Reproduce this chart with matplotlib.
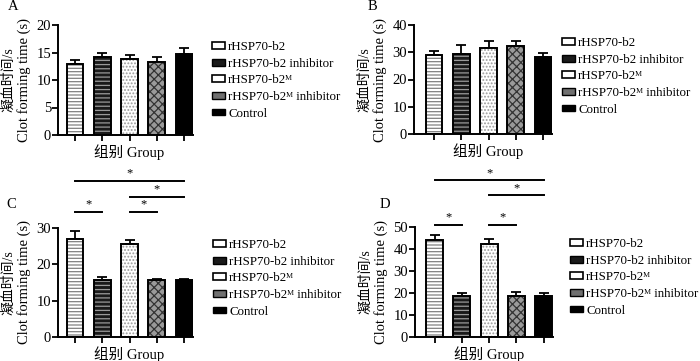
import matplotlib
matplotlib.use("Agg")
import matplotlib.pyplot as plt
from matplotlib.patches import Patch
from matplotlib.transforms import blended_transform_factory

plt.rcParams['font.family'] = ['Liberation Serif', 'Noto Sans CJK SC', 'DejaVu Sans']
plt.rcParams['hatch.linewidth'] = 0.9

groups = ['rHSP70-b2', 'rHSP70-b2 inhibitor', 'rHSP70-b2ᴹ',
          'rHSP70-b2ᴹ inhibitor', 'Control']

vals_A = [12.9, 14.2, 13.8, 13.3, 14.8]
err_A = [0.7, 0.8, 0.8, 0.8, 1.1]
vals_B = [29.0, 29.5, 31.4, 32.3, 28.1]
err_B = [1.4, 3.3, 2.8, 1.9, 1.6]
vals_C = [27.0, 15.7, 25.7, 15.6, 15.6]
err_C = [2.3, 0.8, 1.1, 0.4, 0.3]
vals_D = [44.1, 18.5, 42.3, 18.5, 18.5]
err_D = [2.2, 1.5, 2.0, 1.6, 1.3]

sig_C = [(0, 4, 43.1), (2, 4, 38.7), (0, 1, 34.5), (2, 3, 34.5)]
sig_D = [(0, 4, 71.0), (2, 4, 64.2), (0, 1, 50.8), (2, 3, 50.8)]

ylims = {'A': (20, 5), 'B': (40, 10), 'C': (30, 10), 'D': (50, 10)}

ylabel_cn = '凝血时间/s'
ylabel_en = 'Clot forming time (s)'
xlabel = '组别 Group'

# styles: facecolor, hatch, hatch colour
styles = [
    ('white', '-----', '#808080'),
    ('#1a1a1a', '----', '#9a9a9a'),
    ('white', '.....', '#9a9a9a'),
    ('#9a9a9a', 'xxxx', '#333333'),
    ('black', None, 'black'),
]

W, H = 700, 361
fig = plt.figure(figsize=(W / 100, H / 100), dpi=100)

SP = 27.3  # px between bar centres


def make_axes(x0, c1, ytop, ybot):
    c5 = c1 + 4 * SP
    x1 = c5 + 9
    ax = fig.add_axes([x0 / W, 1 - ybot / H, (x1 - x0) / W, (ybot - ytop) / H])
    ax.set_xlim(-(c1 - x0) / SP, 4 + (x1 - c5) / SP)
    return ax


def draw(ax, x0, ybot, vals, errs, key, sig=None):
    ymax, step = ylims[key]
    x = list(range(len(vals)))
    for i, (v, (fc, hatch, hc)) in enumerate(zip(vals, styles)):
        ax.bar(i, v, width=0.62, color=fc, hatch=hatch, edgecolor=hc, linewidth=0, zorder=2)
        ax.bar(i, v, width=0.62, fill=False, edgecolor='black', linewidth=1.4, zorder=3)
    ax.errorbar(x, vals, yerr=[[0] * len(errs), errs], fmt='none', ecolor='black',
                elinewidth=1.3, capsize=3.5, capthick=1.3, zorder=1)
    ax.set_ylim(0, ymax)
    ax.set_yticks(range(0, ymax + 1, step))
    ax.set_xticks(x)
    ax.set_xticklabels([])
    for s in ['top', 'right']:
        ax.spines[s].set_visible(False)
    for s in ['left', 'bottom']:
        ax.spines[s].set_linewidth(1.4)
    ax.tick_params(direction='out', length=4, width=1.3, labelsize=10.5, pad=1)
    tr = blended_transform_factory(fig.transFigure, ax.transAxes)
    ax.text((x0 - 49) / W, 0.5, ylabel_cn, rotation=90, ha='center', va='center',
            fontsize=10, transform=tr)
    ax.text((x0 - 34) / W, 0.5, ylabel_en, rotation=90, ha='center', va='center',
            fontsize=10.5, transform=tr)
    tr2 = blended_transform_factory(ax.transData, fig.transFigure)
    ax.text(2, 1 - (ybot + 17) / H, xlabel, ha='center', va='center', fontsize=10.5,
            transform=tr2)
    if sig:
        for a, b, y in sig:
            ax.plot([a, b], [y, y], color='black', lw=1.4, clip_on=False)
            ax.text((a + b) / 2, y + ymax * 0.012, '*', ha='center', va='bottom',
                    fontsize=9, clip_on=False)


axA = make_axes(58, 75, 25, 135)
axB = make_axes(414, 434, 25, 134)
axC = make_axes(58, 75, 228.3, 336.7)
axD = make_axes(415, 434.5, 226.7, 336.7)

draw(axA, 58, 135, vals_A, err_A, 'A')
draw(axB, 414, 134, vals_B, err_B, 'B')
draw(axC, 58, 336.7, vals_C, err_C, 'C', sig_C)
draw(axD, 415, 336.7, vals_D, err_D, 'D', sig_D)

handles = [Patch(facecolor='white', edgecolor='black', linewidth=1.2),
           Patch(facecolor='#1a1a1a', edgecolor='black', linewidth=1.0),
           Patch(facecolor='white', edgecolor='black', linewidth=1.2),
           Patch(facecolor='#707070', edgecolor='black', linewidth=1.0),
           Patch(facecolor='black', edgecolor='black', linewidth=1.0)]

for (lx, ly) in [(212, 41), (562, 37), (213, 239), (570, 238)]:
    fig.legend(handles, groups, loc='upper left', bbox_to_anchor=(lx / W, 1 - ly / H),
               bbox_transform=fig.transFigure, frameon=False, fontsize=9.3,
               handlelength=1.0, handleheight=0.45, handletextpad=0.25,
               labelspacing=0.36, borderpad=0, borderaxespad=0)

for lab, (px, py) in zip('ABCD', [(13, 6), (372, 6), (11, 205), (385, 204)]):
    fig.text(px / W, 1 - py / H, lab, fontsize=10.5, ha='center', va='center')

fig.savefig('out.png', dpi=100)
